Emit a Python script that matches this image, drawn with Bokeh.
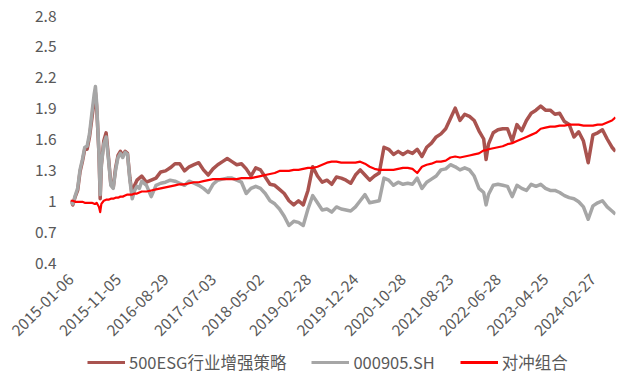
import math
from bokeh.plotting import figure
from bokeh.layouts import column
from bokeh.models import FixedTicker, Range1d, Legend, LegendItem
from bokeh.embed import file_html
from bokeh.resources import INLINE

# trading-day index of each sampled point (shared by all series)
day = [0, 10, 20, 30, 40, 50, 60, 70, 80, 90,
       100, 105, 110, 120, 125, 130, 140, 150, 160, 170,
       180, 190, 200, 210, 220, 230, 240, 250, 260, 270,
       280, 290, 300,
       320, 340, 360, 380, 400, 420, 440, 460, 480, 500,
       520, 540, 560, 580, 600, 620, 640, 660, 680, 700,
       720, 740, 760, 780, 800, 820, 840, 860, 880, 900,
       920, 940, 960, 980, 1000, 1020, 1040, 1060, 1080, 1100,
       1120, 1140, 1160, 1180, 1200, 1220, 1240, 1260, 1280, 1300,
       1320, 1340, 1360, 1380, 1400, 1420, 1440, 1460, 1480, 1500,
       1520, 1540, 1560, 1580, 1600, 1620, 1640, 1660, 1680, 1700,
       1720, 1740, 1750, 1760, 1780, 1800, 1820, 1840, 1860, 1880,
       1900, 1920, 1940, 1960, 1980, 2000, 2020, 2040, 2060, 2080,
       2100, 2120, 2140, 2160, 2180, 2200, 2220, 2240, 2260, 2280,
       2295]

# 500ESG行业增强策略
strategy = [1.00, 0.96, 1.04, 1.10, 1.28, 1.38, 1.50, 1.50, 1.62, 1.80,
            1.98, 2.05, 1.92, 1.45, 1.02, 1.35, 1.58, 1.66, 1.42, 1.16,
            1.13, 1.32, 1.44, 1.48, 1.44, 1.48, 1.46, 1.22, 1.05, 1.15,
            1.20, 1.22, 1.24,
            1.18, 1.20, 1.22, 1.28, 1.29, 1.32, 1.36, 1.36, 1.29, 1.33,
            1.35, 1.37, 1.30, 1.25, 1.31, 1.35, 1.38, 1.41, 1.38, 1.35,
            1.36, 1.31, 1.24, 1.32, 1.30, 1.23, 1.16, 1.15, 1.11, 1.07,
            1.00, 0.96, 1.00, 0.96, 1.10, 1.33, 1.24, 1.18, 1.20, 1.16,
            1.23, 1.22, 1.20, 1.17, 1.25, 1.30, 1.25, 1.20, 1.24, 1.27,
            1.52, 1.50, 1.45, 1.48, 1.45, 1.48, 1.46, 1.50, 1.43, 1.52,
            1.56, 1.62, 1.65, 1.70, 1.80, 1.90, 1.78, 1.84, 1.82, 1.78,
            1.68, 1.60, 1.40, 1.55, 1.66, 1.69, 1.70, 1.70, 1.58, 1.74,
            1.68, 1.78, 1.85, 1.88, 1.92, 1.88, 1.88, 1.84, 1.85, 1.77,
            1.74, 1.62, 1.67, 1.58, 1.37, 1.64, 1.66, 1.69, 1.60, 1.52,
            1.48]

# 000905.SH
index500 = [1.00, 0.97, 1.05, 1.12, 1.30, 1.40, 1.52, 1.53, 1.65, 1.85,
            2.04, 2.11, 1.95, 1.45, 1.06, 1.35, 1.55, 1.62, 1.40, 1.15,
            1.12, 1.30, 1.42, 1.46, 1.42, 1.47, 1.45, 1.20, 1.02, 1.10,
            1.14, 1.12, 1.19,
            1.15, 1.04, 1.15, 1.17, 1.18, 1.20, 1.19, 1.17, 1.15, 1.19,
            1.17, 1.15, 1.12, 1.08, 1.16, 1.20, 1.21, 1.22, 1.22, 1.20,
            1.18, 1.07, 1.12, 1.14, 1.12, 1.07, 1.00, 0.97, 0.92, 0.85,
            0.76, 0.80, 0.79, 0.76, 0.92, 1.05, 0.98, 0.91, 0.92, 0.89,
            0.94, 0.92, 0.91, 0.90, 0.94, 1.00, 1.06, 0.98, 0.99, 1.00,
            1.22, 1.20, 1.15, 1.18, 1.16, 1.17, 1.16, 1.22, 1.12, 1.18,
            1.21, 1.24, 1.30, 1.31, 1.35, 1.33, 1.30, 1.32, 1.30, 1.24,
            1.12, 1.08, 0.96, 1.06, 1.15, 1.16, 1.15, 1.14, 1.04, 1.15,
            1.12, 1.10, 1.16, 1.14, 1.16, 1.12, 1.10, 1.10, 1.08, 1.05,
            1.03, 1.02, 0.99, 0.94, 0.82, 0.95, 0.98, 1.00, 0.94, 0.90,
            0.87]

# 对冲组合
hedge = [1.00, 1.00, 0.99, 0.99, 0.99, 0.99, 0.98, 0.98, 0.98, 0.98,
         0.97, 0.97, 0.98, 0.94, 0.89, 0.97, 1.00, 1.01, 1.01, 1.02,
         1.02, 1.03, 1.03, 1.04, 1.04, 1.05, 1.06, 1.06, 1.06, 1.07,
         1.07, 1.08, 1.09,
         1.09, 1.10, 1.11, 1.12, 1.13, 1.14, 1.15, 1.16, 1.16, 1.17,
         1.18, 1.18, 1.19, 1.20, 1.21, 1.21, 1.21, 1.21, 1.21, 1.21,
         1.22, 1.22, 1.22, 1.23, 1.24, 1.25, 1.26, 1.27, 1.29, 1.29,
         1.29, 1.30, 1.30, 1.31, 1.32, 1.32, 1.33, 1.35, 1.37, 1.38,
         1.38, 1.37, 1.37, 1.37, 1.37, 1.38, 1.36, 1.33, 1.31, 1.30,
         1.30, 1.30, 1.30, 1.31, 1.32, 1.32, 1.31, 1.27, 1.33, 1.35,
         1.36, 1.38, 1.38, 1.39, 1.42, 1.43, 1.42, 1.43, 1.44, 1.45,
         1.46, 1.49, 1.49, 1.50, 1.51, 1.52, 1.53, 1.55, 1.56, 1.58,
         1.60, 1.62, 1.64, 1.66, 1.70, 1.71, 1.72, 1.72, 1.73, 1.73,
         1.74, 1.74, 1.74, 1.73, 1.73, 1.73, 1.74, 1.74, 1.76, 1.78,
         1.81]

x_tick_days = [0, 200, 400, 600, 800, 1000, 1200, 1400, 1600, 1800, 2000, 2200]
x_tick_labels = ["2015-01-06", "2015-11-05", "2016-08-29", "2017-07-03",
                 "2018-05-02", "2019-02-28", "2019-12-24", "2020-10-28",
                 "2021-08-23", "2022-06-28", "2023-04-25", "2024-02-27"]
y_tick_vals = [0.4, 0.7, 1.0, 1.3, 1.6, 1.9, 2.2, 2.5, 2.8]
y_tick_labels = ["0.4", "0.7", "1", "1.3", "1.6", "1.9", "2.2", "2.5", "2.8"]

series_names = ["500ESG行业增强策略", "000905.SH", "对冲组合"]
colors = ["#A9534F", "#A6A6A6", "#FF0000"]
widths = [3.5, 3.5, 2.2]

assert len(day) == len(strategy) == len(index500) == len(hedge)

FONT = "Noto Sans CJK SC"
TXT = "#595959"
series = [strategy, index500, hedge]

# ---- main chart ----
p = figure(width=617, height=344, output_backend="svg", toolbar_location=None,
           x_range=Range1d(0, 2295), y_range=Range1d(0.4, 2.8),
           min_border_left=70, min_border_right=2, min_border_top=15,
           min_border_bottom=81)
p.outline_line_color = None
p.grid.visible = False
p.background_fill_color = "white"
p.border_fill_color = "white"

for vals, c, w in zip(series, colors, widths):
    p.line(day, vals, line_color=c, line_width=w, line_join="round")

xa = p.xaxis[0]
xa.ticker = FixedTicker(ticks=x_tick_days)
xa.major_label_overrides = dict(zip(x_tick_days, x_tick_labels))
xa.major_label_orientation = math.pi / 4
xa.axis_line_color = None
xa.major_tick_line_color = None
xa.minor_tick_line_color = None
xa.major_tick_out = 0
xa.major_tick_in = 0
xa.major_label_standoff = 14
xa.major_label_text_font = FONT
xa.major_label_text_font_size = "15.5px"
xa.major_label_text_color = TXT

ya = p.yaxis[0]
ya.ticker = FixedTicker(ticks=y_tick_vals)
ya.major_label_overrides = dict(zip(y_tick_vals, y_tick_labels))
ya.axis_line_color = None
ya.major_tick_line_color = None
ya.minor_tick_line_color = None
ya.major_tick_out = 0
ya.major_tick_in = 0
ya.major_label_standoff = 14
ya.major_label_text_font = FONT
ya.major_label_text_font_size = "15.5px"
ya.major_label_text_color = TXT

# ---- legend strip (same series, drawn out of its visible range) ----
lg = figure(width=617, height=30, output_backend="svg", toolbar_location=None,
            x_range=Range1d(0, 2295), y_range=Range1d(10, 11),
            x_axis_location=None, y_axis_location=None,
            min_border_left=70, min_border_right=2, min_border_top=0,
            min_border_bottom=0)
lg.outline_line_color = None
lg.grid.visible = False
lg.background_fill_color = "white"
lg.border_fill_color = "white"

items = []
for name, vals, c in zip(series_names, series, colors):
    r = lg.line(day, vals, line_color=c, line_width=3)
    items.append(LegendItem(label=name, renderers=[r]))

legend = Legend(items=items, location=(17, 0), orientation="horizontal",
                glyph_width=38, glyph_height=20, label_height=20,
                label_standoff=4, spacing=25,
                padding=0, margin=0, border_line_color=None,
                background_fill_alpha=0, label_text_font=FONT,
                label_text_font_size="16.5px", label_text_color=TXT)
lg.add_layout(legend)

layout = column(p, lg, spacing=0)
open("out.html", "w").write(file_html(layout, INLINE))
